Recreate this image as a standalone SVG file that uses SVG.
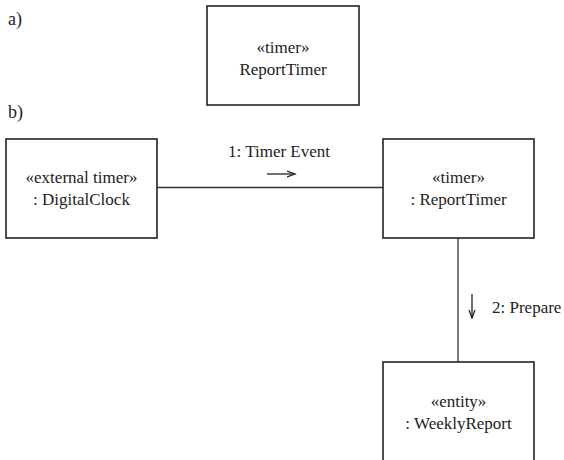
<svg xmlns="http://www.w3.org/2000/svg" width="564" height="460" viewBox="0 0 564 460">
<style>
.box{fill:#fff;stroke:#222;stroke-width:1.6}
.ln{fill:none;stroke:#333;stroke-width:1.3}
.ar{fill:none;stroke:#222;stroke-width:1.3}
.t{font-family:'Liberation Serif','Times New Roman','DejaVu Serif',serif;font-size:17px;fill:#222}
.c{text-anchor:middle}
.lab{font-size:18px}
</style>
<defs>
<marker id="stick" markerWidth="10" markerHeight="10" refX="8" refY="4" orient="auto" markerUnits="userSpaceOnUse">
<path d="M0,1 L8,4 L0,7" fill="none" stroke="#222" stroke-width="1.3"/>
</marker>
</defs>
<g class="t" font-family="Liberation Serif, Times New Roman, DejaVu Serif, serif">
<text class="lab" x="8" y="25">a)</text>
<text class="lab" x="8" y="118">b)</text>
<g id="connectors">
<line class="ln" x1="157" y1="187.5" x2="383" y2="187.5"/>
<line class="ln" x1="458" y1="238" x2="458" y2="362"/>
<text class="c" x="279" y="157">1: Timer Event</text>
<line class="ar" x1="267" y1="174" x2="295" y2="174" marker-end="url(#stick)"/>
<line class="ar" x1="472" y1="294" x2="472" y2="318" marker-end="url(#stick)"/>
<text x="492" y="313">2: Prepare</text>
</g>
<g id="reportTimerClass">
<rect class="box" x="207" y="6" width="152" height="99"/>
<text class="c" x="283" y="53">«timer»</text>
<text class="c" x="283" y="75">ReportTimer</text>
</g>
<g id="digitalClock">
<rect class="box" x="6" y="139" width="151" height="99"/>
<text class="c" x="81.5" y="183">«external timer»</text>
<text class="c" x="81.5" y="205">: DigitalClock</text>
</g>
<g id="reportTimer">
<rect class="box" x="383" y="139" width="151" height="99"/>
<text class="c" x="458.5" y="183">«timer»</text>
<text class="c" x="458.5" y="205">: ReportTimer</text>
</g>
<g id="weeklyReport">
<rect class="box" x="383" y="362" width="151" height="100"/>
<text class="c" x="458.5" y="407">«entity»</text>
<text class="c" x="458.5" y="429">: WeeklyReport</text>
</g>
</g>
</svg>
